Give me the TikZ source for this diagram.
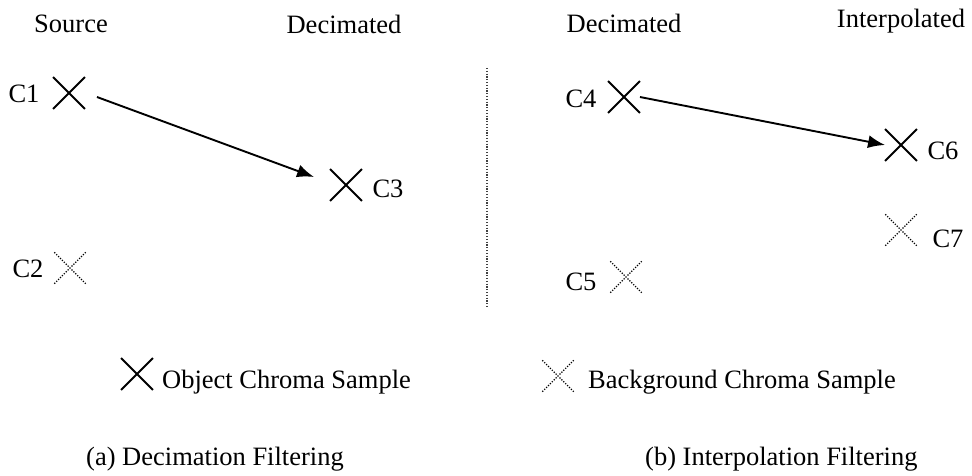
\documentclass[tikz,border=0pt]{standalone}
\usepackage{fontspec}
\setmainfont{Liberation Serif}
\usetikzlibrary{shapes.misc,arrows.meta}

\begin{document}
\begin{tikzpicture}[
  x=1pt, y=-1pt,
  objx/.style={cross out, draw, line width=1.9pt, minimum size=30pt, inner sep=0pt},
  bgx/.style={cross out, draw, line width=1.3pt, dash pattern=on 1.2pt off 1.5pt, minimum size=30pt, inner sep=0pt},
  lbl/.style={anchor=base, inner sep=0pt, font=\fontsize{26.5}{32}\selectfont},
  move/.style={-{Latex[length=17pt,width=13pt]}, line width=1.9pt}
]
  \useasboundingbox (0,0) rectangle (972,476);

  % column titles
  \node[lbl] (src)  at (71,33)  {Source};
  \node[lbl] (deca) at (344,34) {Decimated};
  \node[lbl] (decb) at (624,33) {Decimated};
  \node[lbl] (intp) at (901,28) {Interpolated};

  % decimation side
  \node[objx] (c1) at (69,93) {};
  \node[bgx]  (c2) at (70,268) {};
  \node[objx] (c3) at (346,185) {};
  \node[lbl] (c1l) at (24,103) {C1};
  \node[lbl] (c2l) at (28,277) {C2};
  \node[lbl] (c3l) at (388,197) {C3};

  % interpolation side
  \node[objx] (c4) at (624,97) {};
  \node[bgx]  (c5) at (626,277) {};
  \node[objx] (c6) at (901,145) {};
  \node[bgx]  (c7) at (901,230) {};
  \node[lbl] (c4l) at (581,108) {C4};
  \node[lbl] (c5l) at (581,290) {C5};
  \node[lbl] (c6l) at (943,160) {C6};
  \node[lbl] (c7l) at (948,247) {C7};

  \draw[move] ([shift={(12,4)}]c1.east) -- ([shift={(-16,-8)}]c3.west);
  \draw[move] (c4.east) -- (c6.west);

  % divider
  \coordinate (divtop) at (487,68);
  \coordinate (divbot) at (487,308);
  \draw[line width=1.2pt, dash pattern=on 1.2pt off 1.6pt, black!75] (divtop) -- (divbot);

  % legend
  \node[objx] (objkey) at (137,374) {};
  \node[lbl, anchor=base west] (objtxt) at (162,388) {Object Chroma Sample};
  \node[bgx] (bgkey) at (558,376) {};
  \node[lbl, anchor=base west] (bgtxt) at (588,388) {Background Chroma Sample};

  % captions
  \node[lbl, anchor=base west] (capa) at (86,465) {(a) Decimation Filtering};
  \node[lbl, anchor=base west] (capb) at (645,465) {(b) Interpolation Filtering};
\end{tikzpicture}
\end{document}
